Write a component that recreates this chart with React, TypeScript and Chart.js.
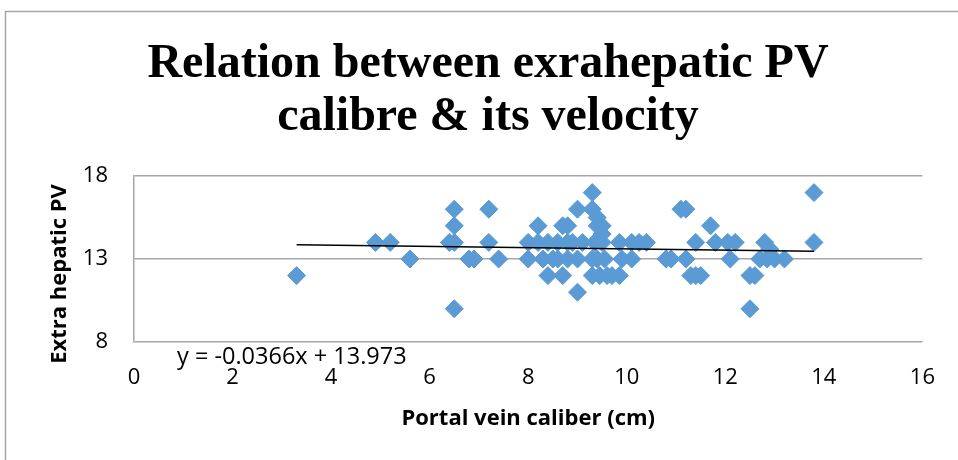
import React, { useEffect, useRef } from "react";
import { Chart, registerables } from "chart.js";

Chart.register(...registerables);

const TITLE_LINES = ["Relation between exrahepatic PV", "calibre & its velocity"];
const X_TITLE = "Portal vein caliber (cm)";
const Y_TITLE = "Extra hepatic PV";

// Portal vein caliber (cm)
const caliber = [
  3.3, 4.9, 5.2, 5.6, 6.4, 6.5, 6.5, 6.5, 6.5, 6.8, 6.9, 7.2, 7.2, 7.4,
  8.0, 8.0, 8.2, 8.2, 8.3, 8.4, 8.4, 8.5, 8.6, 8.6, 8.7, 8.7, 8.8, 8.8, 8.8, 8.9,
  9.0, 9.0, 9.0, 9.1, 9.3, 9.3, 9.3, 9.3, 9.35, 9.4, 9.4, 9.4, 9.45, 9.5, 9.5, 9.5,
  9.55, 9.6, 9.7, 9.85, 9.85, 9.9, 10.1, 10.1, 10.25, 10.4,
  10.8, 10.9, 11.1, 11.2, 11.2, 11.3, 11.4, 11.4, 11.5, 11.7, 11.8,
  12.05, 12.1, 12.2, 12.5, 12.5, 12.6, 12.7, 12.8, 12.85, 12.9, 13.0, 13.2, 13.8, 13.8,
];
// Extra hepatic PV velocity
const velocity = [
  12, 14, 14, 13, 14, 16, 15, 14, 10, 13, 13, 16, 14, 13,
  14, 13, 15, 14, 13, 14, 12, 13, 14, 13, 15, 12, 15, 14, 13, 14,
  16, 13, 11, 14, 17, 16, 13, 12, 14, 15.5, 15, 13, 12, 15, 14.5, 14,
  13, 12, 12, 12, 14, 13, 14, 13, 14, 14,
  13, 13, 16, 16, 13, 12, 14, 12, 12, 15, 14,
  14, 13, 14, 12, 10, 12, 13, 14, 13, 13.6, 13, 13, 17, 14,
];

const trendSlope = -0.0366;
const trendIntercept = 13.973;

const xTicks = [0, 2, 4, 6, 8, 10, 12, 14, 16];
const yTicks = [8, 13, 18];

const TICK_FONT = "'Open Sans', 'Noto Sans', sans-serif";

export default function App() {
  const ref = useRef<HTMLCanvasElement | null>(null);

  useEffect(() => {
    const canvas = ref.current;
    if (!canvas) return;
    const points = caliber.map((x, i) => ({ x, y: velocity[i] }));
    const xMin = Math.min(...caliber);
    const xMax = Math.max(...caliber);
    const trend = [
      { x: xMin, y: trendSlope * xMin + trendIntercept },
      { x: xMax, y: trendSlope * xMax + trendIntercept },
    ];
    const eqText = `y = ${trendSlope}x + ${trendIntercept}`;

    const decor = {
      id: "decor",
      beforeDraw(chart: any) {
        const ctx = chart.ctx;
        ctx.save();
        ctx.fillStyle = "#ffffff";
        ctx.fillRect(0, 0, chart.width, chart.height);
        ctx.strokeStyle = "#A6A6A6";
        ctx.lineWidth = 1.5;
        ctx.beginPath();
        ctx.moveTo(5.5, chart.height);
        ctx.lineTo(5.5, 11.5);
        ctx.lineTo(chart.width, 11.5);
        ctx.stroke();
        ctx.restore();
      },
      afterDraw(chart: any) {
        const ctx = chart.ctx;
        const area = chart.chartArea;
        ctx.save();
        ctx.fillStyle = "#000000";
        ctx.textAlign = "center";
        ctx.textBaseline = "alphabetic";
        ctx.font = "bold 48px 'Liberation Serif', 'Times New Roman', serif";
        ctx.fillText(TITLE_LINES[0], 488, 77);
        ctx.fillText(TITLE_LINES[1], 488, 130);
        // regression equation label
        ctx.font = `23.5px ${TICK_FONT}`;
        ctx.textAlign = "left";
        ctx.fillText(eqText, area.left + 43, area.bottom + 22);
        // y axis title
        ctx.save();
        ctx.translate(60, (area.top + area.bottom) / 2 + 15);
        ctx.rotate(-Math.PI / 2);
        ctx.textAlign = "center";
        ctx.textBaseline = "middle";
        ctx.font = `bold 22px ${TICK_FONT}`;
        ctx.fillText(Y_TITLE, 0, 0);
        ctx.restore();
        ctx.restore();
      },
    };

    const chart = new Chart(canvas, {
      type: "scatter",
      data: {
        datasets: [
          {
            type: "line",
            label: "Linear",
            data: trend,
            borderColor: "#000000",
            borderWidth: 1.5,
            pointRadius: 0,
            fill: false,
          } as any,
          {
            label: "PV",
            data: points,
            pointStyle: "rectRot",
            pointRadius: 9,
            pointBorderWidth: 1,
            backgroundColor: "#5B9BD5",
            borderColor: "#5B9BD5",
          },
        ],
      },
      options: {
        responsive: false,
        animation: false,
        devicePixelRatio: 1,
        layout: { padding: { top: 176, right: 32, bottom: 18, left: 0 } },
        plugins: {
          legend: { display: false },
          tooltip: { enabled: false },
          title: { display: false },
        },
        scales: {
          x: {
            type: "linear",
            min: 0,
            max: 16,
            afterBuildTicks: (s: any) => {
              s.ticks = xTicks.map((v) => ({ value: v }));
            },
            afterFit: (s: any) => {
              s.height = 100;
            },
            grid: { display: false, drawTicks: false },
            border: { display: false },
            ticks: {
              padding: 23,
              color: "#000000",
              font: { family: TICK_FONT, size: 22 },
              maxRotation: 0,
            },
            title: {
              display: true,
              text: X_TITLE,
              color: "#000000",
              font: { family: TICK_FONT, size: 22, weight: "bold" },
              padding: { top: 0, bottom: 10 },
            },
          },
          y: {
            type: "linear",
            min: 8,
            max: 18,
            afterBuildTicks: (s: any) => {
              s.ticks = yTicks.map((v) => ({ value: v }));
            },
            afterFit: (s: any) => {
              s.width = 134;
            },
            grid: { color: "#A6A6A6", lineWidth: 1.5, drawTicks: false },
            border: { display: true, color: "#A6A6A6", width: 1.5 },
            ticks: {
              padding: 26,
              color: "#000000",
              font: { family: TICK_FONT, size: 22 },
            },
            title: { display: false },
          },
        },
      },
      plugins: [decor],
    });
    return () => chart.destroy();
  }, []);

  return (
    <div style={{ position: "absolute", left: 0, top: 0, width: 958, height: 460 }}>
      <canvas ref={ref} width={958} height={460} style={{ display: "block" }} />
    </div>
  );
}
